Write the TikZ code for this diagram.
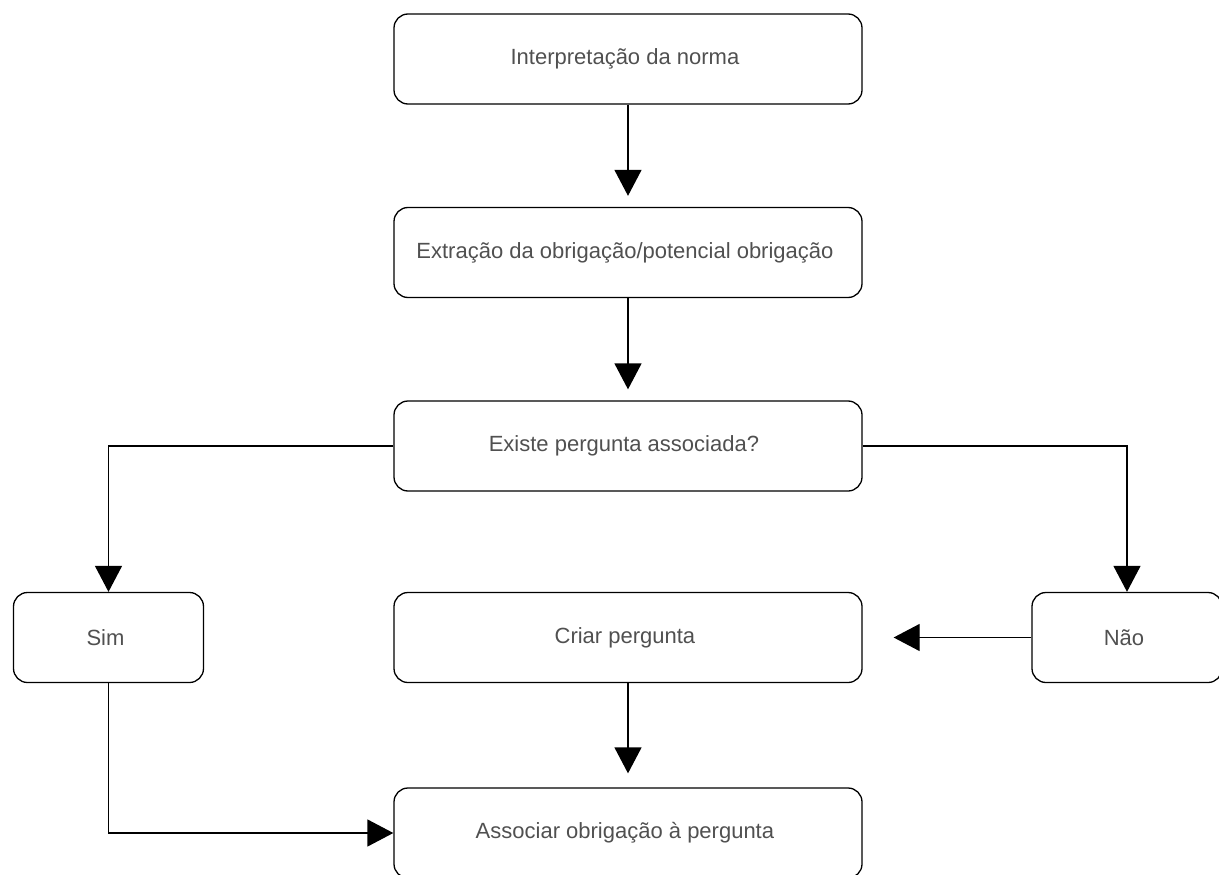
\documentclass[tikz,border=0pt]{standalone}
\usepackage[usenames,dvipsnames]{xcolor}
\usepackage{fontspec}
\setsansfont{Liberation Sans}
\usepackage{tikz}
\definecolor{labelgray}{RGB}{80,80,80}
\usetikzlibrary{arrows.meta, shapes, arrows, positioning}

\begin{document}
\begin{tikzpicture}[
            >={Triangle[width=27pt,length=26pt]},
                base/.style = {rectangle, rounded corners=14pt, draw=black,
                            line width=1.3pt, minimum width=468pt, minimum height=90pt,
                            text centered, text=labelgray,
                            font=\sffamily\fontsize{22}{26}\selectfont},
                process/.style = {base},
                answer/.style = {base, minimum width=190pt},
            node distance=193.5pt,
            line width=1.3pt,
            align=center]
            \useasboundingbox (0pt,0pt) rectangle (1219pt,-875pt);
            \node (Interpretacao) [process] at (628pt,-59pt) {
                Interpretação da norma
            };
            \node (Extracao) [process, below of=Interpretacao] {
                Extração da obrigação/potencial obrigação
            };
            \node (Existe) [process, below of=Extracao] {
                Existe pergunta associada?
            };
            \node (Criar) [process, below of=Existe, yshift=2pt] {
                Criar pergunta
            };
            \node (Sim) [answer, left of=Criar, xshift=-326pt] {
                Sim
            };
            \node (Nao) [answer, right of=Criar, xshift=305.5pt] {
                Não
            };
            \node (Associar) [process, below of=Criar, yshift=-2pt] {
                Associar obrigação à pergunta
            };
            \draw[->, shorten >=11pt] (Interpretacao) -- (Extracao);
            \draw[->, shorten >=11pt] (Extracao) -- (Existe);
            \draw[->] (Existe.west) -| (Sim);
            \draw[->] (Existe.east) -| (Nao);
            \draw[->, shorten >=31pt] (Nao) -- (Criar);
            \draw[->, shorten >=14pt] (Criar) -- (Associar);
            \draw[->] (Sim) |- (Associar);
        \end{tikzpicture}
\end{document}
